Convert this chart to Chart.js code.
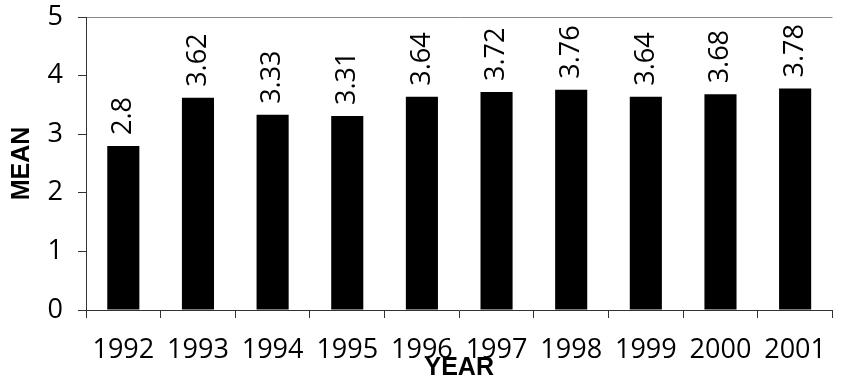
<!DOCTYPE html>
<html lang="en">
<head>
  <meta charset="UTF-8">
  <title>Mean by Year</title>
  <script src="https://cdn.jsdelivr.net/npm/chart.js"></script>
  <style>
    body { margin: 0; background: #fff; }
    #chart-container { width: 842px; height: 380px; position: relative; }
  </style>
</head>
<body>
  <div id="chart-container">
    <canvas id="meanChart"></canvas>
  </div>

  <script>
    // data
    const years = ['1992', '1993', '1994', '1995', '1996', '1997', '1998', '1999', '2000', '2001'];
    const means = [2.8, 3.62, 3.33, 3.31, 3.64, 3.72, 3.76, 3.64, 3.68, 3.78];
    const yTicks = [0, 1, 2, 3, 4, 5];

    const tickFont = { family: 'Open Sans', size: 27 };
    const titleFont = { family: 'Liberation Sans', size: 25, weight: 'bold', lineHeight: 1 };

    // rotated value labels above each bar
    const valueLabels = {
      id: 'valueLabels',
      afterDatasetsDraw(chart) {
        const ctx = chart.ctx;
        const meta = chart.getDatasetMeta(0);
        ctx.save();
        ctx.fillStyle = '#000';
        ctx.font = '27px "Open Sans"';
        ctx.textAlign = 'left';
        ctx.textBaseline = 'middle';
        meta.data.forEach((bar, i) => {
          ctx.save();
          ctx.translate(bar.x, bar.y - 11);
          ctx.rotate(-Math.PI / 2);
          ctx.fillText(String(means[i]), 0, 0);
          ctx.restore();
        });
        ctx.restore();
      }
    };

    const ctx = document.getElementById('meanChart').getContext('2d');
    new Chart(ctx, {
      type: 'bar',
      data: {
        labels: years,
        datasets: [{
          data: means,
          backgroundColor: '#000',
          borderWidth: 0,
          barPercentage: 0.43,
          categoryPercentage: 1
        }]
      },
      options: {
        responsive: true,
        maintainAspectRatio: false,
        animation: false,
        layout: { padding: { top: 17, left: 6, right: 0, bottom: 0 } },
        plugins: {
          legend: { display: false },
          tooltip: { enabled: false }
        },
        scales: {
          x: {
            offset: true,
            afterFit: axis => { axis.height = 70; },
            grid: {
              offset: true,
              drawOnChartArea: false,
              tickLength: 8,
              tickColor: '#333'
            },
            border: { color: '#333' },
            ticks: { color: '#000', font: tickFont, padding: 16, maxRotation: 0, autoSkip: false },
            title: {
              display: true,
              text: 'YEAR',
              color: '#000',
              font: titleFont,
              padding: { top: 0, bottom: -0.5 }
            }
          },
          y: {
            min: 0,
            max: 5,
            afterFit: axis => {
              axis.width = 80;
              axis.paddingTop = 0;
              axis.paddingBottom = 0;
            },
            afterBuildTicks: axis => { axis.ticks = yTicks.map(v => ({ value: v })); },
            grid: {
              color: c => (c.tick && c.tick.value === 5 ? '#888' : 'rgba(0,0,0,0)'),
              tickColor: '#333',
              tickLength: 8
            },
            border: { color: '#333' },
            ticks: { color: '#000', font: tickFont, padding: 15 },
            title: {
              display: true,
              text: 'MEAN',
              color: '#000',
              font: titleFont,
              padding: { top: 4, bottom: 0 }
            }
          }
        }
      },
      plugins: [valueLabels]
    });
  </script>
</body>
</html>
